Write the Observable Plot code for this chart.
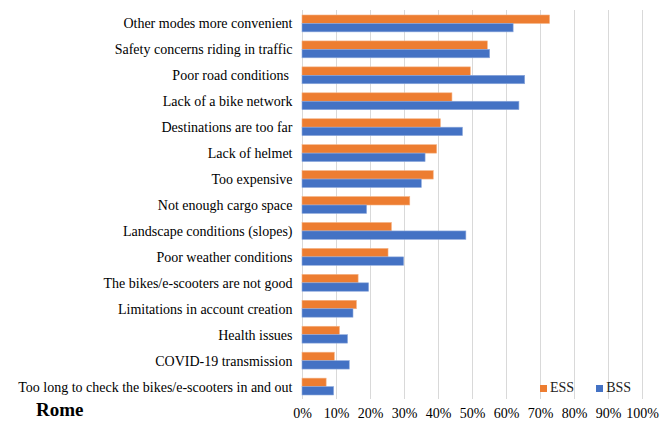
<!DOCTYPE html>
<html>
<head>
<meta charset="utf-8">
<script src="https://cdn.jsdelivr.net/npm/d3@7"></script>
<script src="https://cdn.jsdelivr.net/npm/@observablehq/plot@0.6"></script>
<style>
  html, body { margin: 0; padding: 0; background: #fff; }
  #wrap { position: relative; width: 670px; height: 425px; font-family: "Liberation Serif", "Times New Roman", serif; }
  #chart svg, #chart svg text { font-family: "Liberation Serif", "Times New Roman", serif !important; }
  #title { position: absolute; left: 36px; top: 399px; font-size: 19px; font-weight: bold; color: #000; }
  #legend { position: absolute; left: 540px; top: 380px; font-size: 14px; color: #222; display: flex; align-items: center; }
  .sw { display: inline-block; width: 7px; height: 7px; margin-right: 3px; }
  .item { display: flex; align-items: center; margin-right: 22px; }
</style>
</head>
<body>
<div id="wrap">
  <div id="chart"></div>
  <div id="title">Rome</div>
  <div id="legend"></div>
</div>
<script>
const categories = [
  "Other modes more convenient",
  "Safety concerns riding in traffic",
  "Poor road conditions ",
  "Lack of a bike network",
  "Destinations are too far",
  "Lack of helmet",
  "Too expensive",
  "Not enough cargo space",
  "Landscape conditions (slopes)",
  "Poor weather conditions",
  "The bikes/e-scooters are not good",
  "Limitations in account creation",
  "Health issues",
  "COVID-19 transmission",
  "Too long to check the bikes/e-scooters in and out"
];
const essValues = [0.728, 0.545, 0.495, 0.441, 0.407, 0.396, 0.386, 0.317, 0.263, 0.253, 0.165, 0.160, 0.110, 0.095, 0.071];
const bssValues = [0.621, 0.552, 0.655, 0.638, 0.472, 0.362, 0.351, 0.190, 0.482, 0.299, 0.196, 0.150, 0.134, 0.139, 0.093];
const seriesNames = ["ESS", "BSS"];
const seriesColors = ["#ED7D31", "#4472C4"];
const xTicks = [0, 0.1, 0.2, 0.3, 0.4, 0.5, 0.6, 0.7, 0.8, 0.9, 1.0];

const data = categories.map((c, i) => ({category: c, ESS: essValues[i], BSS: bssValues[i]}));

const step = (395 - 15) / (categories.length - 0.35);
const half = step * 0.65 / 2;

const chart = Plot.plot({
  width: 670,
  height: 425,
  marginLeft: 302,
  marginRight: 28,
  marginTop: 10,
  marginBottom: 26,
  style: {fontFamily: "'Liberation Serif', 'Times New Roman', serif", fontSize: "14px", color: "#000", background: "transparent"},
  x: {domain: [0, 1], ticks: xTicks, tickFormat: d => Math.round(d * 100) + "%", tickSize: 0, tickPadding: 9, label: null},
  y: {domain: categories, range: [15, 395], paddingInner: 0.35, paddingOuter: 0, round: false, tickSize: 0, tickPadding: 10, label: null},
  marks: [
    Plot.ruleX(xTicks, {stroke: "#d9d9d9", strokeWidth: 1}),
    Plot.barX(data, {x: "ESS", y: "category", fill: seriesColors[0], insetBottom: half, stroke: "#f4b183", strokeWidth: 0.6}),
    Plot.barX(data, {x: "BSS", y: "category", fill: seriesColors[1], insetTop: half, stroke: "#8faadc", strokeWidth: 0.6})
  ]
});
document.getElementById("chart").appendChild(chart);

const legend = document.getElementById("legend");
seriesNames.forEach((name, i) => {
  const item = document.createElement("div");
  item.className = "item";
  const sw = document.createElement("span");
  sw.className = "sw";
  sw.style.background = seriesColors[i];
  const label = document.createElement("span");
  label.textContent = name;
  item.appendChild(sw);
  item.appendChild(label);
  legend.appendChild(item);
});
</script>
</body>
</html>
